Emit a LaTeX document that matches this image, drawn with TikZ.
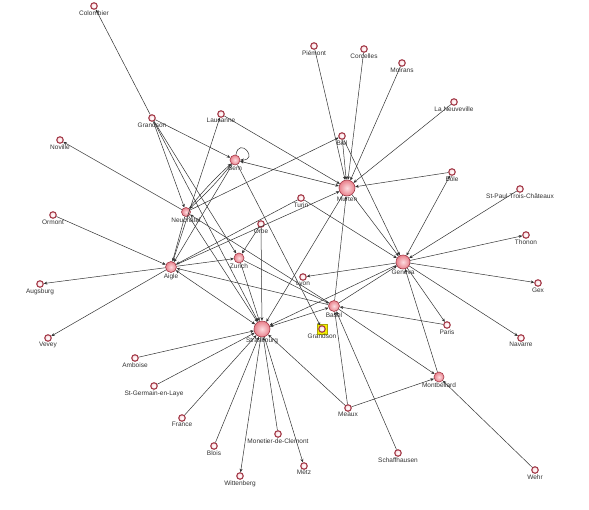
\documentclass[tikz,border=0pt]{standalone}
\usepackage{fontspec}
\setmainfont{Liberation Sans}
\usetikzlibrary{arrows.meta}
\definecolor{ring}{HTML}{A33A48}
\definecolor{pinkA}{HTML}{FCDCE0}
\definecolor{pinkB}{HTML}{E9808B}
\definecolor{edgec}{HTML}{333333}
\definecolor{txt}{HTML}{333333}
\definecolor{hly}{HTML}{F4F000}
\begin{document}
\begin{tikzpicture}[x=1pt,y=-1pt,
 nd/.style={circle,draw=ring,inner sep=0pt,line width=0.6pt,inner color=pinkA,outer color=pinkB,
   label distance=3.5pt},
 sm/.style={nd,minimum size=6.5pt,line width=1.1pt,inner color=white,outer color=pinkA},
 md/.style={nd,minimum size=11pt},
 lg/.style={nd,minimum size=16pt},
 lab/.style={font=\fontsize{6.5}{7.5}\selectfont,text=txt,inner sep=0.5pt},
 ed/.style={draw=edgec,line width=0.5pt,-{Stealth[length=3.5pt,width=3pt]}},
 bi/.style={draw=edgec,line width=0.5pt,{Stealth[length=3.5pt,width=3pt]}-{Stealth[length=3.5pt,width=3pt]}}]
\useasboundingbox (0,0) rectangle (589,509);
\fill[white] (0,0) rectangle (589,509);

% highlight
\node[fill=hly,draw=hly!70!black,line width=0.3pt,minimum size=10pt,inner sep=0pt] (hl) at (322,329) {};

% nodes
\node[sm,label={[lab]below:Colombier}] (colombier) at (94,6) {};
\node[sm,label={[lab]below:Grandson}] (grandsonA) at (152,118) {};
\node[sm,label={[lab]below:Noville}] (noville) at (60,140) {};
\node[sm,label={[lab]below:Lausanne}] (lausanne) at (221,114) {};
\node[md,minimum size=10pt,label={[lab]below:Bern}] (bern) at (235,160) {};
\node[sm,label={[lab]below:Piémont}] (piemont) at (314,46) {};
\node[sm,label={[lab]below:Corcelles}] (corcelles) at (364,49) {};
\node[sm,label={[lab]below:Moirans}] (moirans) at (402,63) {};
\node[sm,label={[lab]below:La Neuveville}] (laneuveville) at (454,102) {};
\node[sm,label={[lab]below:Biel}] (biel) at (342,136) {};
\node[lg,label={[lab]below:Murten}] (murten) at (347,188) {};
\node[sm,label={[lab]below:Bôle}] (bole) at (452,172) {};
\node[sm,label={[lab]below:St-Paul-Trois-Châteaux}] (stpaul) at (520,189) {};
\node[sm,label={[lab]below:Thonon}] (thonon) at (526,235) {};
\node[sm,label={[lab]below:Ormont}] (ormont) at (53,215) {};
\node[md,minimum size=9pt,label={[lab]below:Neuchâtel}] (neuchatel) at (186,212) {};
\node[md,label={[lab]below:Aigle}] (aigle) at (171,267) {};
\node[sm,label={[lab]below:Augsburg}] (augsburg) at (40,284) {};
\node[sm,label={[lab]below:Vevey}] (vevey) at (48,338) {};
\node[sm,label={[lab]below:Turin}] (turin) at (301,198) {};
\node[sm,label={[lab]below:Orbe}] (orbe) at (261,224) {};
\node[md,minimum size=10pt,label={[lab]below:Zurich}] (zurich) at (239,258) {};
\node[sm,label={[lab]below:Lyon}] (lyon) at (303,277) {};
\node[md,label={[lab]below:Basel}] (basel) at (334,306) {};
\node[sm,label={[lab]below:Grandson}] (grandsonB) at (322,329) {};
\node[lg,label={[lab]below:Strasbourg}] (strasbourg) at (262,329) {};
\node[lg,minimum size=14pt,label={[lab]below:Geneva}] (geneva) at (403,262) {};
\node[sm,label={[lab]below:Gex}] (gex) at (538,283) {};
\node[sm,label={[lab]below:Paris}] (paris) at (447,325) {};
\node[sm,label={[lab]below:Navarre}] (navarre) at (521,338) {};
\node[md,minimum size=10pt,label={[lab]below:Montbéliard}] (montbeliard) at (439,377) {};
\node[sm,label={[lab]below:Amboise}] (amboise) at (135,358) {};
\node[sm,label={[lab]below:St-Germain-en-Laye}] (stgermain) at (154,386) {};
\node[sm,label={[lab]below:France}] (france) at (182,418) {};
\node[sm,label={[lab]below:Blois}] (blois) at (214,446) {};
\node[sm,label={[lab]below:Wittenberg}] (wittenberg) at (240,476) {};
\node[sm,label={[lab]below:Monetier-de-Clemont}] (monetier) at (278,434) {};
\node[sm,label={[lab]below:Meaux}] (meaux) at (348,408) {};
\node[sm,label={[lab]below:Schaffhausen}] (schaffhausen) at (398,453) {};
\node[sm,label={[lab]below:Metz}] (metz) at (304,466) {};
\node[sm,label={[lab]below:Wehr}] (wehr) at (535,470) {};

% edges
\path[ed] (grandsonA) edge (colombier)
  (grandsonA) edge (bern)
  (grandsonA) edge (neuchatel)
  (grandsonA) edge (zurich)
  (grandsonA) edge (strasbourg)
  (neuchatel) edge (noville)
  (lausanne) edge (murten)
  (aigle) edge (lausanne)
  (bern) edge (grandsonB)
  (neuchatel) edge[bend left=4] (bern)
  (bern) edge[bend left=4] (neuchatel)
  (bern) edge (aigle)
  (turin) edge (aigle)
  (aigle) edge (murten)
  (neuchatel) edge (aigle)
  (aigle) edge (zurich)
  (basel) edge (aigle)
  (ormont) edge (aigle)
  (aigle) edge (augsburg)
  (aigle) edge (vevey)
  (neuchatel) edge (biel)
  (neuchatel) edge (strasbourg)
  (basel) edge (neuchatel)
  (piemont) edge (murten)
  (corcelles) edge (murten)
  (biel) edge (murten)
  (moirans) edge (murten)
  (laneuveville) edge (murten)
  (bole) edge (murten)
  (basel) edge (murten)
  (murten) edge (geneva)
  (murten) edge (strasbourg)
  (biel) edge (geneva)
  (turin) edge (geneva)
  (stpaul) edge (geneva)
  (geneva) edge (thonon)
  (geneva) edge (gex)
  (geneva) edge (navarre)
  (geneva) edge (paris)
  (montbeliard) edge (geneva)
  (geneva) edge (lyon)
  (basel) edge (geneva)
  (geneva) edge (strasbourg)
  (orbe) edge (zurich)
  (orbe) edge (strasbourg)
  (zurich) edge (basel)
  (zurich) edge (strasbourg)
  (paris) edge (basel)
  (basel) edge (montbeliard)
  (meaux) edge (basel)
  (schaffhausen) edge (basel)
  (meaux) edge (strasbourg)
  (meaux) edge (montbeliard)
  (wehr) edge (montbeliard)
  (amboise) edge (strasbourg)
  (stgermain) edge (strasbourg)
  (france) edge (strasbourg)
  (blois) edge (strasbourg)
  (strasbourg) edge (wittenberg)
  (monetier) edge (strasbourg)
  (strasbourg) edge (metz)
  (bern) edge[out=80,in=0,min distance=19pt] (bern);
\path[bi] (bern) edge (murten)
  (aigle) edge (strasbourg)
  (geneva) edge (bole)
  (basel) edge (strasbourg);
\end{tikzpicture}
\end{document}
